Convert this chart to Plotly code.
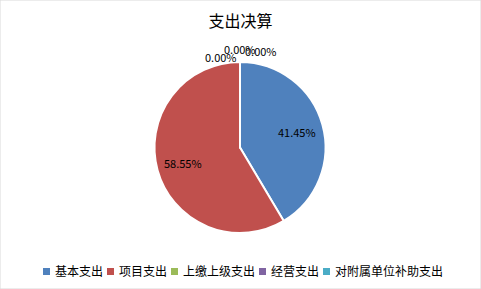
import math
import plotly.graph_objects as go

categories = ["基本支出", "项目支出", "上缴上级支出", "经营支出", "对附属单位补助支出"]
values = [41.45, 58.55, 0.0, 0.0, 0.0]
colors = ["#4F81BD", "#C0504D", "#9BBB59", "#8064A2", "#4BACC6"]
title_text = "支出决算"

W, H = 481, 289
font_family = "Microsoft YaHei, Noto Sans CJK SC, sans-serif"

# pie geometry (pixels)
cx, cy, R = 240, 147.5, 85.5

fig = go.Figure()
fig.add_trace(go.Pie(
    labels=categories,
    values=values,
    sort=False,
    direction="clockwise",
    rotation=0,
    marker=dict(colors=colors, line=dict(color="white", width=2)),
    textinfo="none",
    domain=dict(x=[(cx - R) / W, (cx + R) / W], y=[1 - (cy + R) / H, 1 - (cy - R) / H]),
    showlegend=False,
    hoverinfo="label+percent",
))

# data labels: non-zero slices placed at 0.7R along the slice bisector,
# zero-value slices (not drawn by Plotly) placed above the pie as in the reference
total = sum(values)
zero_pos = [(221, 57), (240, 49), (261, 51)]
zi = 0
cum = 0.0
for name, v in zip(categories, values):
    if v > 0:
        mid = (cum + v / 2) / total * 2 * math.pi
        x = cx + 0.69 * R * math.sin(mid)
        y = cy - 0.69 * R * math.cos(mid)
        cum += v
    else:
        x, y = zero_pos[zi]
        zi += 1
    fig.add_annotation(x=x / W, y=1 - y / H, xref="paper", yref="paper",
                       xanchor="center", yanchor="middle",
                       text=f"{v / total * 100:.2f}%", showarrow=False,
                       font=dict(size=11, color="#000000", family=font_family))

# compact horizontal legend (Excel style)
char_w = 12
mx = 43
my = 271.5
msize = 7
for name, c in zip(categories, colors):
    fig.add_shape(type="rect", xref="paper", yref="paper",
                  x0=mx / W, x1=(mx + msize) / W,
                  y0=1 - (my + msize / 2) / H, y1=1 - (my - msize / 2) / H,
                  fillcolor=c, line=dict(width=0))
    tx = mx + msize + 3
    fig.add_annotation(x=tx / W, y=1 - 270 / H, xref="paper", yref="paper",
                       xanchor="left", yanchor="middle", text=name, showarrow=False,
                       font=dict(size=12, color="#000000", family=font_family))
    mx = tx + char_w * len(name) + 6

fig.add_shape(type="rect", xref="paper", yref="paper", x0=0, y0=0, x1=1, y1=1,
              line=dict(color="#D9D9D9", width=1))

fig.update_layout(
    width=W, height=H,
    margin=dict(l=0, r=0, t=0, b=0),
    paper_bgcolor="white",
    plot_bgcolor="white",
    title=dict(text=title_text, x=0.5, xanchor="center", y=1 - 21 / H, yanchor="middle",
               font=dict(size=16, color="#000000", family=font_family)),
)

fig.write_html("out.html")
